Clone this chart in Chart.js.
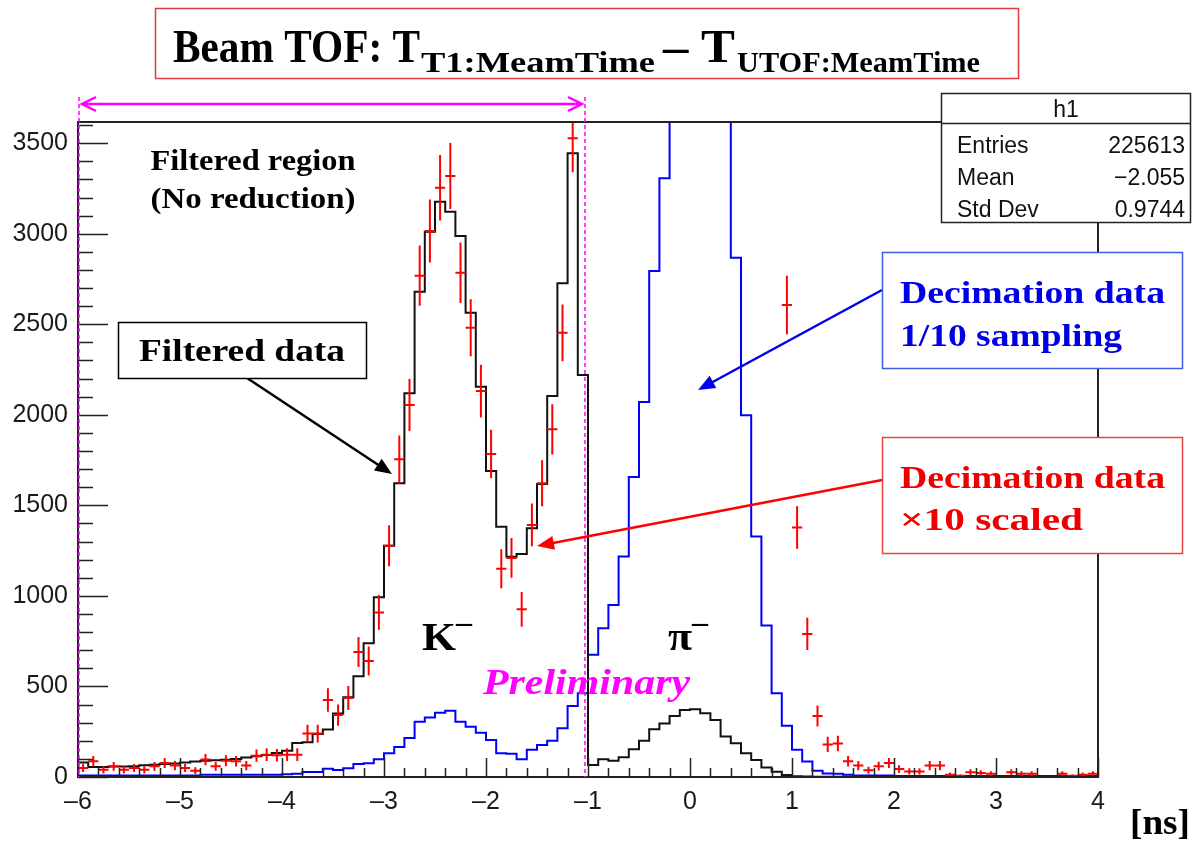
<!DOCTYPE html>
<html>
<head>
<meta charset="utf-8">
<script src="https://cdn.jsdelivr.net/npm/chart.js@4.4.1/dist/chart.umd.min.js"></script>
<style>
  html, body { margin: 0; padding: 0; background: #fff; }
  #wrap { width: 1194px; height: 849px; }
</style>
</head>
<body>
<div id="wrap"><canvas id="tofChart" width="1194" height="849" style="width:1194px;height:849px"></canvas></div>
<script>
// --- histogram binning (100 bins of 0.1 ns from -6 to 4) ---
const xMin = -6;
const xMax = 4;
const binWidth = 0.1;

// filtered data (black), bins left to right
const filteredCounts = [
    80, 55, 55, 58, 58, 60, 65, 68, 72, 75,
    80, 85, 90, 92, 95, 100, 108, 115, 122, 132,
    145, 188, 192, 237, 262, 350, 440, 556, 738, 992,
    1277, 1622, 2119, 2680, 3011, 3177, 3121, 2987, 2564, 2155,
    1690, 1382, 1216, 1231, 1373, 1618, 2104, 2726, 3444, 2220,
    66, 98, 90, 109, 153, 200, 263, 296, 337, 370,
    374, 352, 315, 223, 186, 131, 94, 53, 29, 11,
    4, 3, 2, 2, 1, 1, 1, 1, 1, 1,
    1, 0, 0, 0, 0, 0, 0, 0, 0, 0,
    0, 0, 0, 0, 0, 0, 0, 0, 0, 0
];

// decimation data, 1/10 sampling (blue)
const decimCounts = [
    8, 8, 8, 8, 8, 8, 8, 8, 8, 8,
    8, 8, 12, 12, 12, 12, 12, 12, 12, 12,
    15, 18, 28, 28, 45, 38, 48, 72, 76, 98,
    131, 165, 215, 305, 329, 355, 366, 305, 278, 245,
    204, 131, 128, 98, 151, 177, 200, 269, 392, 462,
    675, 821, 950, 1218, 1656, 2071, 2794, 3306, 4100, 4700,
    5000, 4900, 4500, 3900, 2867, 1998, 1328, 836, 462, 283,
    150, 85, 35, 20, 18, 12, 8, 8, 8, 8,
    5, 5, 5, 5, 5, 5, 5, 5, 5, 5,
    5, 5, 5, 5, 5, 5, 5, 5, 5, 5
];

// decimation data x10 scaled (red points); null = off scale / empty
const scaledCounts = [
    50, 87, 40, 59, 40, 50, 40, 59, 77, 63,
    50, 35, 96, 59, 90, 87, 63, 118, 123, 120,
    123, 123, 240, 240, 425, 342, 436, 690, 640, 909,
    1277, 1754, 2054, 2768, 3015, 3254, 3319, 2785, 2481, 2131,
    1784, 1150, 1210, 926, 1392, 1622, 1920, 2453, 3527, null,
    null, null, null, null, null, null, null, null, null, null,
    null, null, null, null, null, null, null, null, null, 2606,
    1378, 790, 337, 180, 185, 87, 63, 37, 60, 77,
    44, 31, 31, 63, 63, 13, 7, 26, 22, 18,
    null, 26, 18, 18, null, null, 18, 7, 13, 18
];

const xTicks = [-6, -5, -4, -3, -2, -1, 0, 1, 2, 3, 4];
const yTicks = [0, 500, 1000, 1500, 2000, 2500, 3000, 3500];
const yMax = 3617;

const statRows = [
    ['Entries', '225613'],
    ['Mean', '\u22122.055'],
    ['Std Dev', '0.9744']
];

// step outline: one point per low edge plus the closing edge
function toSteps(counts) {
    const pts = counts.map((v, i) => ({ x: xMin + i * binWidth, y: v }));
    pts.push({ x: xMax, y: counts[counts.length - 1] });
    return pts;
}

const SERIF = '"Liberation Serif", "Times New Roman", serif';
const SANS = '"Liberation Sans", Arial, sans-serif';

function fitText(ctx, txt, x, y, w, font, color, align) {
    ctx.save();
    ctx.font = font;
    ctx.fillStyle = color;
    ctx.textBaseline = 'alphabetic';
    ctx.textAlign = 'left';
    const m = ctx.measureText(txt).width;
    const width = w || m;
    let left = x;
    if (align === 'center') left = x - width / 2;
    else if (align === 'right') left = x - width;
    ctx.translate(left, y);
    ctx.scale(width / m, 1);
    ctx.fillText(txt, 0, 0);
    ctx.restore();
}

function arrow(ctx, x1, y1, x2, y2, color, lw) {
    const ang = Math.atan2(y2 - y1, x2 - x1);
    const hl = 17, hw = 7;
    ctx.save();
    ctx.strokeStyle = color;
    ctx.fillStyle = color;
    ctx.lineWidth = lw;
    ctx.beginPath();
    ctx.moveTo(x1, y1);
    ctx.lineTo(x2 - Math.cos(ang) * hl * 0.8, y2 - Math.sin(ang) * hl * 0.8);
    ctx.stroke();
    ctx.beginPath();
    ctx.moveTo(x2, y2);
    ctx.lineTo(x2 - Math.cos(ang) * hl - Math.sin(ang) * hw, y2 - Math.sin(ang) * hl + Math.cos(ang) * hw);
    ctx.lineTo(x2 - Math.cos(ang) * hl + Math.sin(ang) * hw, y2 - Math.sin(ang) * hl - Math.cos(ang) * hw);
    ctx.closePath();
    ctx.fill();
    ctx.restore();
}

function box(ctx, x1, y1, x2, y2, color, lw) {
    ctx.save();
    ctx.fillStyle = '#fff';
    ctx.fillRect(x1, y1, x2 - x1, y2 - y1);
    ctx.strokeStyle = color;
    ctx.lineWidth = lw;
    ctx.strokeRect(x1, y1, x2 - x1, y2 - y1);
    ctx.restore();
}

const whiteBg = {
    id: 'whiteBg',
    beforeDraw(chart) {
        const c = chart.ctx;
        c.save();
        c.fillStyle = '#fff';
        c.fillRect(0, 0, chart.width, chart.height);
        c.restore();
    }
};

// red crosses: vertical sqrt errors, horizontal half-bin
const errorBars = {
    id: 'errorBars',
    afterDatasetsDraw(chart) {
        const c = chart.ctx;
        const xs = chart.scales.x, ys = chart.scales.y, a = chart.chartArea;
        c.save();
        c.beginPath();
        c.rect(a.left, a.top, a.right - a.left, a.bottom - a.top);
        c.clip();
        c.strokeStyle = '#ff0000';
        c.lineWidth = 2;
        scaledCounts.forEach((v, i) => {
            if (v === null || v <= 0) return;
            const xc = xMin + (i + 0.5) * binWidth;
            const err = Math.sqrt(10 * v);
            const px = xs.getPixelForValue(xc);
            const py = ys.getPixelForValue(v);
            c.beginPath();
            c.moveTo(px, ys.getPixelForValue(v + err));
            c.lineTo(px, ys.getPixelForValue(Math.max(0, v - err)));
            c.moveTo(xs.getPixelForValue(xc - binWidth / 2), py);
            c.lineTo(xs.getPixelForValue(xc + binWidth / 2), py);
            c.stroke();
        });
        c.restore();
    }
};

// ROOT style frame with inward ticks
const rootFrame = {
    id: 'rootFrame',
    afterDatasetsDraw(chart) {
        const c = chart.ctx;
        const xs = chart.scales.x, ys = chart.scales.y, a = chart.chartArea;
        c.save();
        c.strokeStyle = '#222';
        c.lineWidth = 1.5;
        c.beginPath();
        // y ticks every 100, major every 500
        for (let v = 0; v <= yMax; v += 100) {
            const py = Math.round(ys.getPixelForValue(v)) + 0.5;
            const len = v % 500 === 0 ? 30 : 15;
            c.moveTo(a.left, py);
            c.lineTo(a.left + len, py);
        }
        // x ticks every 0.2, major every 1
        for (let k = 0; k <= 50; k++) {
            const v = xMin + k * 0.2;
            const px = Math.round(xs.getPixelForValue(v)) + 0.5;
            const len = k % 5 === 0 ? 19 : 9;
            c.moveTo(px, a.bottom);
            c.lineTo(px, a.bottom - len);
        }
        c.stroke();
        c.lineWidth = 2;
        c.strokeRect(a.left, a.top, a.right - a.left, a.bottom - a.top);
        c.restore();
    }
};

const annotations = {
    id: 'annotations',
    afterDraw(chart) {
        const c = chart.ctx;
        const a = chart.chartArea;
        const xs = chart.scales.x;

        // title
        box(c, 155.5, 8.5, 1018.5, 78.5, '#e0393e', 1.5);
        fitText(c, 'Beam TOF: T', 173, 62, 247, 'bold 46px ' + SERIF, '#000');
        fitText(c, 'T1:MeamTime', 421, 72, 234, 'bold 30px ' + SERIF, '#000');
        fitText(c, '\u2013 T', 663, 62, 72, 'bold 46px ' + SERIF, '#000');
        fitText(c, 'UTOF:MeamTime', 737, 72, 243, 'bold 30px ' + SERIF, '#000');

        // filtered region marker
        const xl = xs.getPixelForValue(-6), xr = xs.getPixelForValue(-1) - 3;
        c.save();
        c.strokeStyle = '#ff00ff';
        c.lineWidth = 1.5;
        c.setLineDash([4, 3]);
        c.beginPath();
        c.moveTo(xl + 1, 97); c.lineTo(xl + 1, a.bottom);
        c.moveTo(xr, 97); c.lineTo(xr, a.bottom);
        c.stroke();
        c.setLineDash([]);
        c.lineWidth = 2.5;
        c.beginPath();
        c.moveTo(xl + 4, 104); c.lineTo(xr - 3, 104);
        c.moveTo(xl + 18, 97); c.lineTo(xl + 4, 104); c.lineTo(xl + 18, 111);
        c.moveTo(xr - 17, 97); c.lineTo(xr - 3, 104); c.lineTo(xr - 17, 111);
        c.stroke();
        c.restore();

        fitText(c, 'Filtered region', 253, 170, 205, 'bold 29px ' + SERIF, '#000', 'center');
        fitText(c, '(No reduction)', 253, 208, 205, 'bold 29px ' + SERIF, '#000', 'center');

        // filtered data label
        arrow(c, 247, 378, 392, 474, '#000', 2.5);
        box(c, 118.5, 322.5, 366.5, 378.5, '#000', 1.5);
        fitText(c, 'Filtered data', 242, 361, 206, 'bold 32px ' + SERIF, '#000', 'center');

        // decimation labels
        arrow(c, 882, 290, 698, 390, '#0000ee', 2.5);
        box(c, 882.5, 252.5, 1182.5, 368.5, '#3d5ee0', 1.5);
        fitText(c, 'Decimation data', 900, 303, 265, 'bold 32px ' + SERIF, '#0000e6');
        fitText(c, '1/10 sampling', 900, 346, 222, 'bold 32px ' + SERIF, '#0000e6');

        arrow(c, 882, 480, 537, 546, '#ff0000', 2.5);
        box(c, 882.5, 437.5, 1182.5, 553.5, '#e84444', 1.5);
        fitText(c, 'Decimation data', 900, 488, 265, 'bold 32px ' + SERIF, '#ee0000');
        fitText(c, '\u00d710 scaled', 900, 530, 183, 'bold 32px ' + SERIF, '#ee0000');

        // particle labels
        fitText(c, 'K', 422, 650, 34, 'bold 40px ' + SERIF, '#000');
        fitText(c, '\u2013', 456, 632, 16, 'bold 30px ' + SERIF, '#000');
        fitText(c, '\u03c0', 668, 650, 24, 'bold 40px ' + SERIF, '#000');
        fitText(c, '\u2013', 692, 632, 16, 'bold 30px ' + SERIF, '#000');
        fitText(c, 'Preliminary', 483, 694, 207, 'bold italic 36px ' + SERIF, '#ff00ff');

        // axis unit
        fitText(c, '[ns]', 1130, 834, 60, 'bold 36px ' + SERIF, '#000');

        // stats box
        box(c, 941.5, 93.5, 1190.5, 222.5, '#222', 1.5);
        c.save();
        c.strokeStyle = '#222';
        c.lineWidth = 1.5;
        c.beginPath();
        c.moveTo(941, 123.5); c.lineTo(1190, 123.5);
        c.stroke();
        c.restore();
        fitText(c, 'h1', 1066, 117, null, '23px ' + SANS, '#111', 'center');
        statRows.forEach((r, i) => {
            const by = 153 + i * 32;
            fitText(c, r[0], 957, by, null, '23px ' + SANS, '#111');
            fitText(c, r[1], 1185, by, null, '23px ' + SANS, '#111', 'right');
        });
    }
};

const minusLabel = v => (v < 0 ? '\u2013' + Math.abs(v) : String(v));

new Chart(document.getElementById('tofChart'), {
    type: 'scatter',
    data: {
        datasets: [
            {
                label: 'Filtered data',
                type: 'line',
                data: toSteps(filteredCounts),
                stepped: true,
                borderColor: '#111',
                borderWidth: 2,
                pointRadius: 0,
                fill: false,
                clip: 0
            },
            {
                label: 'Decimation data 1/10 sampling',
                type: 'line',
                data: toSteps(decimCounts),
                stepped: true,
                borderColor: '#0000ff',
                borderWidth: 2,
                pointRadius: 0,
                fill: false,
                clip: 0
            }
        ]
    },
    options: {
        responsive: false,
        animation: false,
        devicePixelRatio: 1,
        layout: { padding: { top: 122, right: 96, left: 0, bottom: 0 } },
        plugins: { legend: { display: false }, tooltip: { enabled: false } },
        scales: {
            x: {
                type: 'linear',
                min: xMin,
                max: xMax,
                afterBuildTicks: s => { s.ticks = xTicks.map(v => ({ value: v })); },
                afterFit: s => { s.height = 72; },
                grid: { display: false, drawTicks: false },
                border: { display: false },
                ticks: {
                    padding: 10,
                    maxRotation: 0,
                    color: '#1a1a1a',
                    font: { family: SANS, size: 25 },
                    callback: minusLabel
                }
            },
            y: {
                type: 'linear',
                min: 0,
                max: yMax,
                afterBuildTicks: s => { s.ticks = yTicks.map(v => ({ value: v })); },
                afterFit: s => { s.width = 78; },
                grid: { display: false, drawTicks: false },
                border: { display: false },
                ticks: {
                    padding: 10,
                    color: '#1a1a1a',
                    font: { family: SANS, size: 25 },
                    callback: minusLabel
                }
            }
        }
    },
    plugins: [whiteBg, errorBars, rootFrame, annotations]
});
</script>
</body>
</html>
